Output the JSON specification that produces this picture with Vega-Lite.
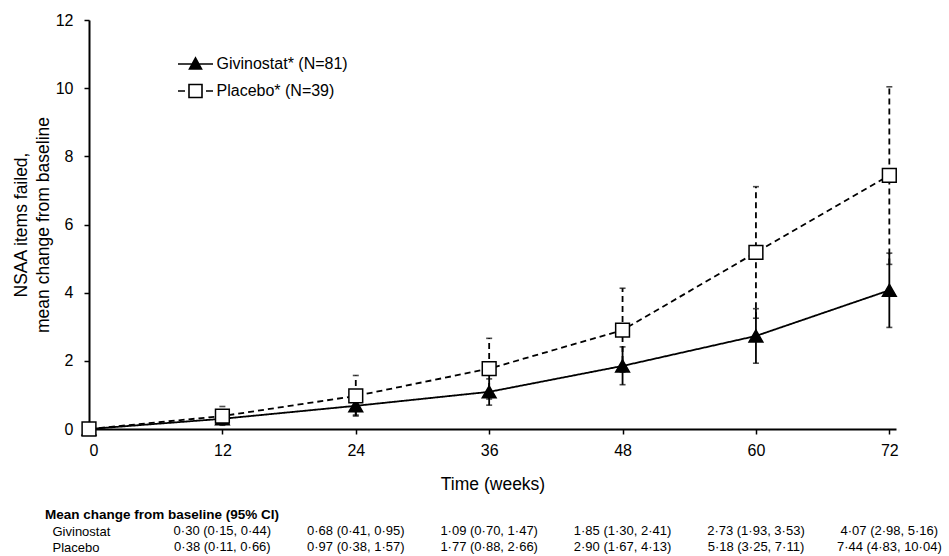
{
  "$schema": "https://vega.github.io/schema/vega-lite/v6.json",
  "background": "white",
  "padding": {"left": 12, "top": 12, "right": 5, "bottom": 0},
  "config": {
    "font": "Liberation Sans",
    "view": {"stroke": null},
    "axis": {"domainColor": "black", "domainWidth": 2, "tickColor": "black", "tickWidth": 1.5, "labelColor": "black", "titleColor": "black", "grid": false, "labelFont": "Liberation Sans", "titleFont": "Liberation Sans", "titleFontWeight": "normal"},
    "concat": {"spacing": 14}
  },
  "datasets": {
    "trial": [
      {"week": 0, "arm": "Givinostat", "series": "Givinostat* (N=81)", "mean": 0, "lo": 0, "hi": 0, "label": ""},
      {"week": 12, "arm": "Givinostat", "series": "Givinostat* (N=81)", "mean": 0.30, "lo": 0.15, "hi": 0.44, "label": "0·30 (0·15, 0·44)"},
      {"week": 24, "arm": "Givinostat", "series": "Givinostat* (N=81)", "mean": 0.68, "lo": 0.41, "hi": 0.95, "label": "0·68 (0·41, 0·95)"},
      {"week": 36, "arm": "Givinostat", "series": "Givinostat* (N=81)", "mean": 1.09, "lo": 0.70, "hi": 1.47, "label": "1·09 (0·70, 1·47)"},
      {"week": 48, "arm": "Givinostat", "series": "Givinostat* (N=81)", "mean": 1.85, "lo": 1.30, "hi": 2.41, "label": "1·85 (1·30, 2·41)"},
      {"week": 60, "arm": "Givinostat", "series": "Givinostat* (N=81)", "mean": 2.73, "lo": 1.93, "hi": 3.53, "label": "2·73 (1·93, 3·53)"},
      {"week": 72, "arm": "Givinostat", "series": "Givinostat* (N=81)", "mean": 4.07, "lo": 2.98, "hi": 5.16, "label": "4·07 (2·98, 5·16)"},
      {"week": 0, "arm": "Placebo", "series": "Placebo* (N=39)", "mean": 0, "lo": 0, "hi": 0, "label": ""},
      {"week": 12, "arm": "Placebo", "series": "Placebo* (N=39)", "mean": 0.38, "lo": 0.11, "hi": 0.66, "label": "0·38 (0·11, 0·66)"},
      {"week": 24, "arm": "Placebo", "series": "Placebo* (N=39)", "mean": 0.97, "lo": 0.38, "hi": 1.57, "label": "0·97 (0·38, 1·57)"},
      {"week": 36, "arm": "Placebo", "series": "Placebo* (N=39)", "mean": 1.77, "lo": 0.88, "hi": 2.66, "label": "1·77 (0·88, 2·66)"},
      {"week": 48, "arm": "Placebo", "series": "Placebo* (N=39)", "mean": 2.90, "lo": 1.67, "hi": 4.13, "label": "2·90 (1·67, 4·13)"},
      {"week": 60, "arm": "Placebo", "series": "Placebo* (N=39)", "mean": 5.18, "lo": 3.25, "hi": 7.11, "label": "5·18 (3·25, 7·11)"},
      {"week": 72, "arm": "Placebo", "series": "Placebo* (N=39)", "mean": 7.44, "lo": 4.83, "hi": 10.04, "label": "7·44 (4·83, 10·04)"}
    ]
  },
  "vconcat": [
    {
      "width": 807,
      "height": 409,
      "data": {"name": "trial"},
      "encoding": {
        "x": {"field": "week", "type": "quantitative", "scale": {"domain": [0, 72.6], "nice": false},
          "axis": {"values": [0, 12, 24, 36, 48, 60, 72], "title": "Time (weeks)", "labelFontSize": 16, "titleFontSize": 17.5, "tickSize": 5, "labelPadding": 8, "titlePadding": 17}}
      },
      "layer": [
        {
          "transform": [{"filter": "datum.week > 0"}],
          "mark": {"type": "rule", "color": "black", "strokeWidth": 1.8},
          "encoding": {
            "y": {"field": "lo", "type": "quantitative"},
            "y2": {"field": "hi"},
            "strokeDash": {"condition": {"test": "datum.arm == 'Placebo'", "value": [6, 4]}, "value": [1, 0]}
          }
        },
        {
          "transform": [{"filter": "datum.week > 0"}],
          "mark": {"type": "tick", "orient": "horizontal", "color": "black", "size": 6, "thickness": 1.6},
          "encoding": {"y": {"field": "hi", "type": "quantitative"}}
        },
        {
          "transform": [{"filter": "datum.week > 0"}],
          "mark": {"type": "tick", "orient": "horizontal", "color": "black", "size": 6, "thickness": 1.6},
          "encoding": {"y": {"field": "lo", "type": "quantitative"}}
        },
        {
          "mark": {"type": "line", "color": "black", "strokeWidth": 1.8},
          "encoding": {
            "y": {"field": "mean", "type": "quantitative", "scale": {"domain": [0, 12], "nice": false},
              "axis": {"values": [0, 2, 4, 6, 8, 10, 12], "title": ["NSAA items failed,", "mean change from baseline"], "labelFontSize": 16, "titleFontSize": 17.5, "tickSize": 5, "labelPadding": 11, "titlePadding": 3, "titleLineHeight": 22}},
            "strokeDash": {"condition": {"test": "datum.arm == 'Placebo'", "value": [6, 4]}, "value": [1, 0]},
            "detail": {"field": "series"}
          }
        },
        {
          "mark": {"type": "point", "filled": true, "stroke": "black", "strokeWidth": 1.5, "size": 190, "opacity": 1},
          "encoding": {
            "y": {"field": "mean", "type": "quantitative"},
            "fill": {"condition": {"test": "datum.arm == 'Givinostat'", "value": "black"}, "value": "white"},
            "shape": {"condition": {"test": "datum.arm == 'Givinostat'", "value": "triangle-up"}, "value": "square"}
          }
        },
        {
          "transform": [{"filter": "datum.week < 0"}],
          "mark": {"type": "point", "filled": true, "strokeWidth": 1.6},
          "encoding": {
            "y": {"field": "mean", "type": "quantitative"},
            "shape": {"field": "series", "type": "nominal",
              "scale": {"domain": ["Givinostat* (N=81)", "Placebo* (N=39)"], "range": ["M-1.75,0H1.75M-0.6,0.5L0.6,0.5L0,-0.6Z", "M-1.75,0H-1.05M1.05,0H1.75M-0.65,-0.65H0.65V0.65H-0.65Z"]},
              "legend": {
                "orient": "none", "legendX": 95.5, "legendY": 33, "title": null, "padding": 0,
                "labelFontSize": 16, "labelFont": "Liberation Sans", "labelColor": "black",
                "symbolSize": 400, "rowPadding": 7, "labelOffset": 10, "symbolStrokeWidth": 1.6, "symbolOpacity": 1
              }},
            "fill": {"field": "series", "type": "nominal",
              "scale": {"domain": ["Givinostat* (N=81)", "Placebo* (N=39)"], "range": ["black", "white"]},
              "legend": {
                "orient": "none", "legendX": 95.5, "legendY": 33, "title": null, "padding": 0,
                "labelFontSize": 16, "labelFont": "Liberation Sans", "labelColor": "black",
                "symbolSize": 400, "rowPadding": 7, "labelOffset": 10, "symbolStrokeWidth": 1.6, "symbolOpacity": 1
              }},
            "stroke": {"field": "series", "type": "nominal",
              "scale": {"domain": ["Givinostat* (N=81)", "Placebo* (N=39)"], "range": ["black", "black"]},
              "legend": {
                "orient": "none", "legendX": 95.5, "legendY": 33, "title": null, "padding": 0,
                "labelFontSize": 16, "labelFont": "Liberation Sans", "labelColor": "black",
                "symbolSize": 400, "rowPadding": 7, "labelOffset": 10, "symbolStrokeWidth": 1.6, "symbolOpacity": 1
              }}
          }
        }
      ]
    },
    {
      "width": 807,
      "height": 32,
      "data": {"name": "trial"},
      "transform": [{"filter": "datum.week > 0"}],
      "title": {"text": "Mean change from baseline (95% CI)", "anchor": "start", "frame": "group", "dx": -44, "fontSize": 13.5, "fontWeight": "bold", "font": "Liberation Sans", "color": "black", "offset": 2},
      "mark": {"type": "text", "fontSize": 13, "font": "Liberation Sans", "color": "black", "align": "center", "baseline": "middle"},
      "encoding": {
        "x": {"field": "week", "type": "quantitative", "scale": {"domain": [0, 72.6], "nice": false}, "axis": null},
        "y": {"field": "arm", "type": "nominal", "scale": {"domain": ["Givinostat", "Placebo"]},
          "axis": {"title": null, "domain": false, "ticks": false, "tickSize": 0, "labelAlign": "left", "labelPadding": 37, "labelFontSize": 13, "labelColor": "black"}},
        "text": {"field": "label"}
      }
    }
  ]
}
